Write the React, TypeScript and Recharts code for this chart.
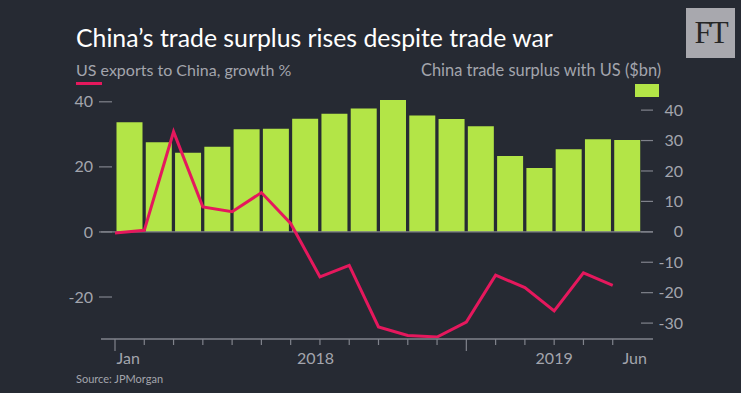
import React from "react";
import {
	Bar,
	ComposedChart,
	Line,
	ReferenceLine,
	XAxis,
	YAxis,
} from "recharts";

const months = [
	"Jan 2018", "Feb 2018", "Mar 2018", "Apr 2018", "May 2018", "Jun 2018",
	"Jul 2018", "Aug 2018", "Sep 2018", "Oct 2018", "Nov 2018", "Dec 2018",
	"Jan 2019", "Feb 2019", "Mar 2019", "Apr 2019", "May 2019", "Jun 2019",
];
// China trade surplus with US ($bn)
const surplus = [
	36.0, 29.4, 26.0, 28.0, 33.7, 33.9, 37.2, 38.8, 40.5, 43.3, 38.2, 37.1,
	34.7, 24.9, 21.0, 27.1, 30.4, 30.2,
];
// US exports to China, growth %
const growth = [
	-0.3, 0.5, 30.8, 7.7, 6.2, 12.1, 2.6, -13.8, -10.3, -29.2, -31.8, -32.3,
	-27.7, -13.3, -17.1, -24.3, -12.6, -16.4,
];
const leftTicks = [-20, 0, 20, 40];
const rightTicks = [-30, -20, -10, 0, 10, 20, 30, 40];
const xLabelPos = [0.45, 6.85, 15, 17.75];
const xLabelText = ["Jan", "2018", "2019", "Jun"];
const majorMonths = [0, 12];

const BG = "#262a33";
const AXIS = "#80838c";
const TXT = "#a3a5ad";
const GREEN = "#b3e547";
const RED = "#e5185d";
const FONT = "Lato, 'Open Sans', sans-serif";

const data = months.map((m, i) => ({
	month: m,
	idx: i,
	surplus: surplus[i],
	growth: growth[i],
}));

function LeftTick(props: any) {
	const { x, y, payload } = props;
	return (
		<g>
			<line x1={x - 2} x2={x + 11} y1={y} y2={y} stroke={AXIS} strokeWidth={1.2} />
			<text x={x - 8} y={y} dy="0.35em" textAnchor="end" fill={TXT} fontSize={16} fontFamily={FONT}>
				{payload.value}
			</text>
		</g>
	);
}

function RightTick(props: any) {
	const { x, y, payload } = props;
	return (
		<g>
			<line x1={x - 12} x2={x} y1={y} y2={y} stroke={AXIS} strokeWidth={1.2} />
			<text x={x + 30} y={y} dy="0.35em" textAnchor="end" fill={TXT} fontSize={16} fontFamily={FONT}>
				{payload.value}
			</text>
		</g>
	);
}

function MonthTick(props: any) {
	const { x, y, payload } = props;
	const long = majorMonths.includes(payload.value);
	return <line x1={x} x2={x} y1={y} y2={y + (long ? 12 : 6)} stroke={AXIS} strokeWidth={1.2} />;
}

function LabelTick(props: any) {
	const { x, y, payload } = props;
	const i = xLabelPos.indexOf(payload.value);
	return (
		<text x={x} y={y + 26} textAnchor="middle" fill={TXT} fontSize={16} fontFamily={FONT}>
			{xLabelText[i]}
		</text>
	);
}

export default function App() {
	return (
		<div style={{ position: "relative", width: 741, height: 393, background: BG, fontFamily: FONT }}>
			<style>{"body{margin:0}"}</style>
			<div style={{ position: "absolute", left: 76, top: 23, color: "#ffffff", fontSize: 24.8, whiteSpace: "nowrap" }}>
				China’s trade surplus rises despite trade war
			</div>
			<div style={{ position: "absolute", left: 76, top: 60, color: TXT, fontSize: 16, whiteSpace: "nowrap" }}>
				US exports to China, growth %
			</div>
			<div style={{ position: "absolute", left: 76, top: 82, width: 26, height: 3, background: RED }} />
			<div style={{ position: "absolute", left: 421, top: 60, color: TXT, fontSize: 16.4, whiteSpace: "nowrap" }}>
				China trade surplus with US ($bn)
			</div>
			<div style={{ position: "absolute", left: 635, top: 84, width: 24, height: 13, background: GREEN }} />
			<div
				style={{
					position: "absolute",
					left: 686,
					top: 8,
					width: 49,
					height: 50,
					background: "#a8a8ae",
					color: "#262626",
					fontFamily: "'Liberation Serif', 'DejaVu Serif', serif",
					fontSize: 31,
					lineHeight: "50px",
					textAlign: "center",
					letterSpacing: -2,
				}}
			>
				FT
			</div>
			<div style={{ position: "absolute", left: 76, top: 372, color: TXT, fontSize: 11, whiteSpace: "nowrap" }}>
				Source: JPMorgan
			</div>
			<div style={{ position: "absolute", left: 0, top: 0 }}>
				<ComposedChart
					width={741}
					height={393}
					data={data}
					margin={{ top: 94, right: 0, bottom: 53, left: 0 }}
					barCategoryGap={1.5}
				>
					<XAxis
						xAxisId="num"
						dataKey="idx"
						type="number"
						domain={[0, 18]}
						ticks={months.map((_, i) => i)}
						interval={0}
						height={1}
						padding={{ left: 14, right: 11 }}
						axisLine={{ stroke: AXIS, strokeWidth: 1.5 }}
						tickLine={false}
						tickSize={0}
						tickMargin={0}
						tick={<MonthTick />}
						allowDataOverflow
					/>
					<XAxis
						xAxisId="lbl"
						dataKey="idx"
						type="number"
						domain={[0, 18]}
						ticks={xLabelPos}
						interval={0}
						height={1}
						padding={{ left: 14, right: 11 }}
						axisLine={false}
						tickLine={false}
						tickSize={0}
						tickMargin={0}
						tick={<LabelTick />}
						allowDataOverflow
					/>
					<XAxis
						xAxisId="cat"
						dataKey="month"
						type="category"
						hide
						height={0}
						padding={{ left: 14, right: 11 }}
					/>
					<YAxis
						yAxisId="left"
						orientation="left"
						width={101}
						domain={[-32.6, 42.4]}
						ticks={leftTicks}
						interval={0}
						axisLine={false}
						tickLine={false}
						tickSize={0}
						tickMargin={0}
						tick={<LeftTick />}
						allowDataOverflow
					/>
					<YAxis
						yAxisId="right"
						orientation="right"
						width={88}
						domain={[-34.9, 45.3]}
						ticks={rightTicks}
						interval={0}
						axisLine={false}
						tickLine={false}
						tickSize={0}
						tickMargin={0}
						tick={<RightTick />}
						allowDataOverflow
					/>
					<Bar
						xAxisId="cat"
						yAxisId="right"
						dataKey="surplus"
						fill={GREEN}
						isAnimationActive={false}
					/>
					<ReferenceLine xAxisId="num" yAxisId="left" y={0} stroke={AXIS} strokeWidth={1.2} />
					<Line
						xAxisId="num"
						yAxisId="left"
						dataKey="growth"
						type="linear"
						stroke={RED}
						strokeWidth={3}
						dot={false}
						isAnimationActive={false}
					/>
				</ComposedChart>
			</div>
		</div>
	);
}
